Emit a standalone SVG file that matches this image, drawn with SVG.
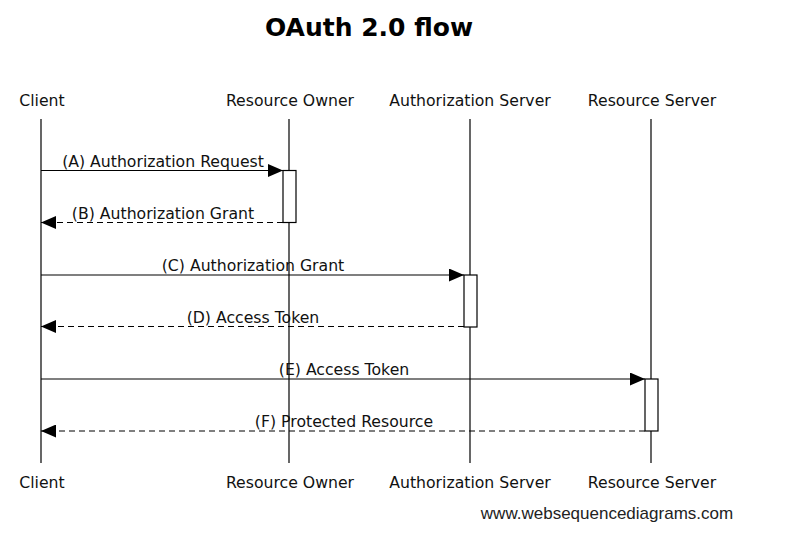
<svg xmlns="http://www.w3.org/2000/svg" width="812" height="547" viewBox="0 0 812 547">
<defs>
<style>
.t{font-family:"DejaVu Sans",sans-serif;font-size:15.7px;fill:#111;text-anchor:middle}
.title{font-family:"DejaVu Sans",sans-serif;font-size:25px;font-weight:bold;fill:#000;text-anchor:middle}
.wm{font-family:"Liberation Sans",Arial,sans-serif;font-size:17px;fill:#222;text-anchor:middle}
.life{stroke:#000;stroke-width:1.2;fill:none}
.act{stroke:#000;stroke-width:1.2;fill:#fff}
.msg{stroke:#000;stroke-width:1.2;fill:none}
.dash{stroke-dasharray:6,4}
</style>
<marker id="ah" viewBox="0 0 15 13" refX="15" refY="6.5" markerWidth="15" markerHeight="13" markerUnits="userSpaceOnUse" orient="auto">
<path d="M0,0 L15,6.5 L0,13 Z" fill="#000"/>
</marker>
</defs>
<rect width="812" height="547" fill="#fff"/>
<text class="title" x="369" y="36">OAuth 2.0 flow</text>

<g id="client">
<text class="t" x="42" y="106">Client</text>
<line class="life" x1="41" y1="119" x2="41" y2="463"/>
<text class="t" x="42" y="488">Client</text>
</g>
<g id="resource-owner">
<text class="t" x="290" y="106">Resource Owner</text>
<line class="life" x1="289" y1="119" x2="289" y2="463"/>
<text class="t" x="290" y="488">Resource Owner</text>
</g>
<g id="authorization-server">
<text class="t" x="470" y="106">Authorization Server</text>
<line class="life" x1="470" y1="119" x2="470" y2="463"/>
<text class="t" x="470" y="488">Authorization Server</text>
</g>
<g id="resource-server">
<text class="t" x="652" y="106">Resource Server</text>
<line class="life" x1="651" y1="119" x2="651" y2="463"/>
<text class="t" x="652" y="488">Resource Server</text>
</g>

<g id="activations">
<rect class="act" x="283" y="170.5" width="13" height="52"/>
<rect class="act" x="464" y="275" width="13" height="52"/>
<rect class="act" x="645" y="379" width="13" height="52"/>
</g>

<g id="connectors">
<line class="msg" x1="41" y1="170.5" x2="283" y2="170.5" marker-end="url(#ah)"/>
<text class="t" x="163" y="167">(A) Authorization Request</text>
<line class="msg dash" x1="283" y1="222.5" x2="41" y2="222.5" marker-end="url(#ah)"/>
<text class="t" x="163" y="219">(B) Authorization Grant</text>
<line class="msg" x1="41" y1="275" x2="464" y2="275" marker-end="url(#ah)"/>
<text class="t" x="253" y="271">(C) Authorization Grant</text>
<line class="msg dash" x1="464" y1="326.5" x2="41" y2="326.5" marker-end="url(#ah)"/>
<text class="t" x="253" y="323">(D) Access Token</text>
<line class="msg" x1="41" y1="379" x2="645" y2="379" marker-end="url(#ah)"/>
<text class="t" x="344" y="375">(E) Access Token</text>
<line class="msg dash" x1="645" y1="431" x2="41" y2="431" marker-end="url(#ah)"/>
<text class="t" x="344" y="427">(F) Protected Resource</text>
</g>

<text class="wm" x="607" y="519">www.websequencediagrams.com</text>
</svg>
